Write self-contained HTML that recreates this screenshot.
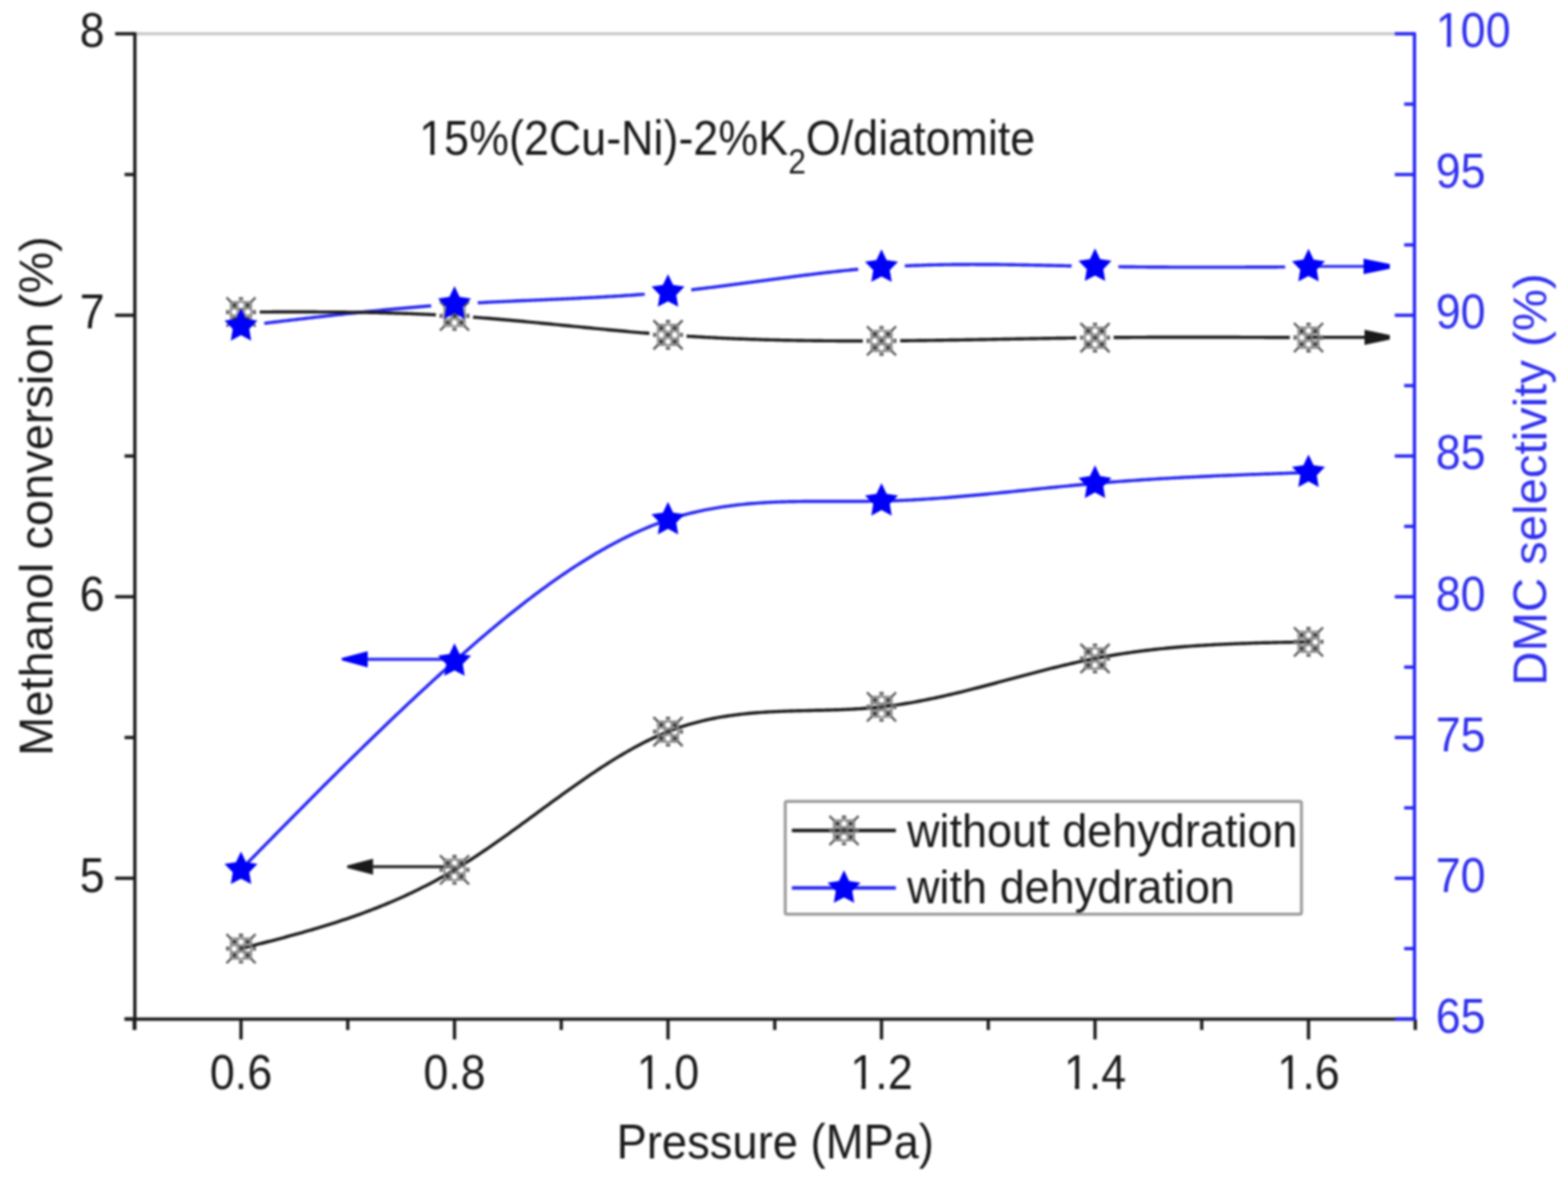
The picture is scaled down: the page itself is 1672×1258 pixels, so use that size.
<!DOCTYPE html><html><head><meta charset="utf-8"><style>html,body{margin:0;padding:0;background:#fff;overflow:hidden;}svg{display:block;filter:blur(0.8px)}</style></head><body>
<svg width="1672" height="1258" viewBox="0 0 1672 1258">
<rect width="1672" height="1258" fill="#fff"/>
<defs>
<mask id="mub" maskUnits="userSpaceOnUse" x="0" y="0" width="1672" height="1258"><rect width="1672" height="1258" fill="#fff"/>
<circle cx="257.00" cy="332.70" r="20" fill="#000"/>
<circle cx="484.66" cy="336.80" r="20" fill="#000"/>
<circle cx="712.32" cy="357.00" r="20" fill="#000"/>
<circle cx="939.98" cy="363.40" r="20" fill="#000"/>
<circle cx="1167.64" cy="360.00" r="20" fill="#000"/>
<circle cx="1395.30" cy="359.90" r="20" fill="#000"/>
</mask>
<mask id="muB" maskUnits="userSpaceOnUse" x="0" y="0" width="1672" height="1258"><rect width="1672" height="1258" fill="#fff"/>
<circle cx="257.00" cy="347.70" r="25" fill="#000"/>
<circle cx="484.66" cy="324.30" r="25" fill="#000"/>
<circle cx="712.32" cy="311.50" r="25" fill="#000"/>
<circle cx="939.98" cy="285.00" r="25" fill="#000"/>
<circle cx="1167.64" cy="284.00" r="25" fill="#000"/>
<circle cx="1395.30" cy="284.50" r="25" fill="#000"/>
</mask>
</defs>
<line x1="143.8" y1="36.0" x2="1508.3" y2="36.0" stroke="#c4c4c4" stroke-width="3"/>
<g fill="none" stroke-width="3.4" stroke-linejoin="round">
<path d="M257.00 347.70 L259.85 347.35 L262.71 347.01 L265.56 346.66 L268.41 346.31 L271.26 345.97 L274.12 345.62 L276.97 345.27 L279.82 344.93 L282.68 344.58 L285.53 344.24 L288.38 343.89 L291.23 343.55 L294.09 343.21 L296.94 342.86 L299.79 342.52 L302.65 342.18 L305.50 341.84 L308.35 341.50 L311.20 341.16 L314.06 340.82 L316.91 340.49 L319.76 340.15 L322.62 339.82 L325.47 339.48 L328.32 339.15 L331.17 338.82 L334.03 338.49 L336.88 338.17 L339.73 337.84 L342.59 337.51 L345.44 337.19 L348.29 336.87 L351.15 336.55 L354.00 336.23 L356.85 335.91 L359.70 335.60 L362.56 335.28 L365.41 334.97 L368.26 334.66 L371.12 334.36 L373.97 334.05 L376.82 333.75 L379.67 333.45 L382.53 333.15 L385.38 332.85 L388.23 332.55 L391.09 332.26 L393.94 331.97 L396.79 331.69 L399.64 331.40 L402.50 331.12 L405.35 330.84 L408.20 330.56 L411.06 330.29 L413.91 330.01 L416.76 329.75 L419.61 329.48 L422.47 329.22 L425.32 328.96 L428.17 328.70 L431.03 328.45 L433.88 328.19 L436.73 327.95 L439.58 327.70 L442.44 327.46 L445.29 327.22 L448.14 326.99 L451.00 326.76 L453.85 326.53 L456.70 326.30 L459.55 326.08 L462.41 325.87 L465.26 325.65 L468.11 325.44 L470.97 325.24 L473.82 325.03 L476.67 324.83 L479.52 324.64 L482.38 324.45 L485.23 324.26 L488.08 324.08 L490.94 323.90 L493.79 323.73 L496.64 323.56 L499.49 323.39 L502.35 323.22 L505.20 323.06 L508.05 322.90 L510.91 322.75 L513.76 322.60 L516.61 322.45 L519.47 322.30 L522.32 322.16 L525.17 322.02 L528.02 321.88 L530.88 321.74 L533.73 321.60 L536.58 321.47 L539.44 321.34 L542.29 321.21 L545.14 321.08 L547.99 320.95 L550.85 320.82 L553.70 320.70 L556.55 320.57 L559.41 320.45 L562.26 320.33 L565.11 320.20 L567.96 320.08 L570.82 319.96 L573.67 319.84 L576.52 319.72 L579.38 319.59 L582.23 319.47 L585.08 319.35 L587.93 319.23 L590.79 319.10 L593.64 318.98 L596.49 318.86 L599.35 318.73 L602.20 318.60 L605.05 318.47 L607.90 318.34 L610.76 318.21 L613.61 318.08 L616.46 317.95 L619.32 317.81 L622.17 317.67 L625.02 317.53 L627.87 317.39 L630.73 317.24 L633.58 317.09 L636.43 316.94 L639.29 316.79 L642.14 316.63 L644.99 316.47 L647.84 316.31 L650.70 316.14 L653.55 315.97 L656.40 315.80 L659.26 315.62 L662.11 315.44 L664.96 315.26 L667.82 315.07 L670.67 314.88 L673.52 314.68 L676.37 314.48 L679.23 314.27 L682.08 314.06 L684.93 313.85 L687.79 313.62 L690.64 313.40 L693.49 313.17 L696.34 312.93 L699.20 312.69 L702.05 312.44 L704.90 312.19 L707.76 311.93 L710.61 311.66 L713.46 311.39 L716.31 311.11 L719.17 310.83 L722.02 310.54 L724.87 310.24 L727.73 309.94 L730.58 309.64 L733.43 309.33 L736.28 309.01 L739.14 308.69 L741.99 308.36 L744.84 308.03 L747.70 307.70 L750.55 307.36 L753.40 307.02 L756.25 306.68 L759.11 306.33 L761.96 305.97 L764.81 305.62 L767.67 305.26 L770.52 304.90 L773.37 304.54 L776.22 304.17 L779.08 303.80 L781.93 303.43 L784.78 303.06 L787.64 302.68 L790.49 302.31 L793.34 301.93 L796.19 301.55 L799.05 301.17 L801.90 300.79 L804.75 300.41 L807.61 300.03 L810.46 299.65 L813.31 299.27 L816.16 298.89 L819.02 298.51 L821.87 298.13 L824.72 297.75 L827.58 297.37 L830.43 296.99 L833.28 296.61 L836.14 296.24 L838.99 295.86 L841.84 295.49 L844.69 295.12 L847.55 294.75 L850.40 294.38 L853.25 294.02 L856.11 293.66 L858.96 293.30 L861.81 292.94 L864.66 292.59 L867.52 292.24 L870.37 291.89 L873.22 291.55 L876.08 291.21 L878.93 290.88 L881.78 290.55 L884.63 290.22 L887.49 289.90 L890.34 289.58 L893.19 289.27 L896.05 288.96 L898.90 288.66 L901.75 288.36 L904.60 288.07 L907.46 287.79 L910.31 287.51 L913.16 287.23 L916.02 286.97 L918.87 286.71 L921.72 286.45 L924.57 286.21 L927.43 285.97 L930.28 285.73 L933.13 285.51 L935.99 285.29 L938.84 285.08 L941.69 284.88 L944.54 284.69 L947.40 284.50 L950.25 284.32 L953.10 284.15 L955.96 283.99 L958.81 283.83 L961.66 283.68 L964.51 283.54 L967.37 283.40 L970.22 283.27 L973.07 283.15 L975.93 283.04 L978.78 282.93 L981.63 282.83 L984.48 282.73 L987.34 282.64 L990.19 282.56 L993.04 282.48 L995.90 282.40 L998.75 282.34 L1001.60 282.28 L1004.46 282.22 L1007.31 282.17 L1010.16 282.12 L1013.01 282.08 L1015.87 282.05 L1018.72 282.02 L1021.57 281.99 L1024.43 281.97 L1027.28 281.95 L1030.13 281.94 L1032.98 281.93 L1035.84 281.92 L1038.69 281.92 L1041.54 281.93 L1044.40 281.93 L1047.25 281.94 L1050.10 281.96 L1052.95 281.97 L1055.81 281.99 L1058.66 282.02 L1061.51 282.04 L1064.37 282.07 L1067.22 282.10 L1070.07 282.14 L1072.92 282.17 L1075.78 282.21 L1078.63 282.25 L1081.48 282.30 L1084.34 282.34 L1087.19 282.39 L1090.04 282.44 L1092.89 282.49 L1095.75 282.54 L1098.60 282.60 L1101.45 282.65 L1104.31 282.71 L1107.16 282.76 L1110.01 282.82 L1112.86 282.88 L1115.72 282.94 L1118.57 283.00 L1121.42 283.06 L1124.28 283.12 L1127.13 283.18 L1129.98 283.24 L1132.83 283.31 L1135.69 283.37 L1138.54 283.43 L1141.39 283.49 L1144.25 283.55 L1147.10 283.61 L1149.95 283.66 L1152.81 283.72 L1155.66 283.78 L1158.51 283.83 L1161.36 283.89 L1164.22 283.94 L1167.07 283.99 L1169.92 284.04 L1172.78 284.09 L1175.63 284.13 L1178.48 284.18 L1181.33 284.22 L1184.19 284.26 L1187.04 284.30 L1189.89 284.34 L1192.75 284.38 L1195.60 284.41 L1198.45 284.45 L1201.30 284.48 L1204.16 284.51 L1207.01 284.54 L1209.86 284.57 L1212.72 284.60 L1215.57 284.62 L1218.42 284.65 L1221.27 284.67 L1224.13 284.69 L1226.98 284.71 L1229.83 284.73 L1232.69 284.75 L1235.54 284.77 L1238.39 284.79 L1241.24 284.80 L1244.10 284.81 L1246.95 284.83 L1249.80 284.84 L1252.66 284.85 L1255.51 284.86 L1258.36 284.87 L1261.21 284.88 L1264.07 284.88 L1266.92 284.89 L1269.77 284.89 L1272.63 284.90 L1275.48 284.90 L1278.33 284.90 L1281.18 284.90 L1284.04 284.90 L1286.89 284.90 L1289.74 284.90 L1292.60 284.90 L1295.45 284.90 L1298.30 284.89 L1301.15 284.89 L1304.01 284.89 L1306.86 284.88 L1309.71 284.87 L1312.57 284.87 L1315.42 284.86 L1318.27 284.85 L1321.13 284.84 L1323.98 284.84 L1326.83 284.83 L1329.68 284.82 L1332.54 284.81 L1335.39 284.79 L1338.24 284.78 L1341.10 284.77 L1343.95 284.76 L1346.80 284.75 L1349.65 284.73 L1352.51 284.72 L1355.36 284.71 L1358.21 284.69 L1361.07 284.68 L1363.92 284.67 L1366.77 284.65 L1369.62 284.64 L1372.48 284.62 L1375.33 284.61 L1378.18 284.59 L1381.04 284.58 L1383.89 284.56 L1386.74 284.55 L1389.59 284.53 L1392.45 284.52 L1395.30 284.50" stroke="#2626f2" mask="url(#muB)"/>
<path d="M257.00 332.70 L259.85 332.69 L262.71 332.67 L265.56 332.66 L268.41 332.65 L271.26 332.64 L274.12 332.63 L276.97 332.62 L279.82 332.60 L282.68 332.59 L285.53 332.58 L288.38 332.58 L291.23 332.57 L294.09 332.56 L296.94 332.55 L299.79 332.55 L302.65 332.54 L305.50 332.54 L308.35 332.53 L311.20 332.53 L314.06 332.53 L316.91 332.53 L319.76 332.53 L322.62 332.53 L325.47 332.54 L328.32 332.54 L331.17 332.55 L334.03 332.56 L336.88 332.57 L339.73 332.58 L342.59 332.59 L345.44 332.61 L348.29 332.63 L351.15 332.65 L354.00 332.67 L356.85 332.69 L359.70 332.72 L362.56 332.74 L365.41 332.77 L368.26 332.81 L371.12 332.84 L373.97 332.88 L376.82 332.92 L379.67 332.96 L382.53 333.00 L385.38 333.05 L388.23 333.10 L391.09 333.15 L393.94 333.21 L396.79 333.27 L399.64 333.33 L402.50 333.39 L405.35 333.46 L408.20 333.53 L411.06 333.60 L413.91 333.68 L416.76 333.76 L419.61 333.84 L422.47 333.93 L425.32 334.02 L428.17 334.12 L431.03 334.21 L433.88 334.31 L436.73 334.42 L439.58 334.53 L442.44 334.64 L445.29 334.76 L448.14 334.88 L451.00 335.00 L453.85 335.13 L456.70 335.26 L459.55 335.40 L462.41 335.54 L465.26 335.69 L468.11 335.84 L470.97 335.99 L473.82 336.15 L476.67 336.32 L479.52 336.49 L482.38 336.66 L485.23 336.84 L488.08 337.02 L490.94 337.21 L493.79 337.40 L496.64 337.59 L499.49 337.79 L502.35 338.00 L505.20 338.21 L508.05 338.42 L510.91 338.64 L513.76 338.86 L516.61 339.08 L519.47 339.31 L522.32 339.54 L525.17 339.78 L528.02 340.01 L530.88 340.26 L533.73 340.50 L536.58 340.75 L539.44 341.00 L542.29 341.25 L545.14 341.50 L547.99 341.76 L550.85 342.02 L553.70 342.28 L556.55 342.55 L559.41 342.81 L562.26 343.08 L565.11 343.35 L567.96 343.62 L570.82 343.89 L573.67 344.17 L576.52 344.44 L579.38 344.72 L582.23 345.00 L585.08 345.28 L587.93 345.56 L590.79 345.84 L593.64 346.12 L596.49 346.40 L599.35 346.69 L602.20 346.97 L605.05 347.25 L607.90 347.54 L610.76 347.82 L613.61 348.10 L616.46 348.38 L619.32 348.67 L622.17 348.95 L625.02 349.23 L627.87 349.51 L630.73 349.79 L633.58 350.07 L636.43 350.35 L639.29 350.63 L642.14 350.90 L644.99 351.18 L647.84 351.45 L650.70 351.72 L653.55 351.99 L656.40 352.26 L659.26 352.53 L662.11 352.79 L664.96 353.05 L667.82 353.31 L670.67 353.57 L673.52 353.83 L676.37 354.08 L679.23 354.33 L682.08 354.58 L684.93 354.82 L687.79 355.06 L690.64 355.30 L693.49 355.54 L696.34 355.77 L699.20 356.00 L702.05 356.22 L704.90 356.44 L707.76 356.66 L710.61 356.87 L713.46 357.08 L716.31 357.29 L719.17 357.49 L722.02 357.69 L724.87 357.88 L727.73 358.07 L730.58 358.26 L733.43 358.44 L736.28 358.62 L739.14 358.79 L741.99 358.96 L744.84 359.13 L747.70 359.29 L750.55 359.45 L753.40 359.61 L756.25 359.76 L759.11 359.91 L761.96 360.05 L764.81 360.19 L767.67 360.33 L770.52 360.47 L773.37 360.60 L776.22 360.73 L779.08 360.85 L781.93 360.97 L784.78 361.09 L787.64 361.20 L790.49 361.32 L793.34 361.42 L796.19 361.53 L799.05 361.63 L801.90 361.73 L804.75 361.82 L807.61 361.92 L810.46 362.01 L813.31 362.09 L816.16 362.18 L819.02 362.26 L821.87 362.33 L824.72 362.41 L827.58 362.48 L830.43 362.55 L833.28 362.62 L836.14 362.68 L838.99 362.74 L841.84 362.80 L844.69 362.86 L847.55 362.91 L850.40 362.96 L853.25 363.01 L856.11 363.05 L858.96 363.10 L861.81 363.14 L864.66 363.17 L867.52 363.21 L870.37 363.24 L873.22 363.27 L876.08 363.30 L878.93 363.33 L881.78 363.35 L884.63 363.37 L887.49 363.39 L890.34 363.41 L893.19 363.43 L896.05 363.44 L898.90 363.45 L901.75 363.46 L904.60 363.47 L907.46 363.47 L910.31 363.47 L913.16 363.48 L916.02 363.48 L918.87 363.47 L921.72 363.47 L924.57 363.46 L927.43 363.45 L930.28 363.44 L933.13 363.43 L935.99 363.42 L938.84 363.41 L941.69 363.39 L944.54 363.37 L947.40 363.35 L950.25 363.33 L953.10 363.31 L955.96 363.29 L958.81 363.26 L961.66 363.24 L964.51 363.21 L967.37 363.18 L970.22 363.15 L973.07 363.12 L975.93 363.08 L978.78 363.05 L981.63 363.02 L984.48 362.98 L987.34 362.94 L990.19 362.90 L993.04 362.87 L995.90 362.83 L998.75 362.78 L1001.60 362.74 L1004.46 362.70 L1007.31 362.66 L1010.16 362.61 L1013.01 362.57 L1015.87 362.52 L1018.72 362.48 L1021.57 362.43 L1024.43 362.38 L1027.28 362.33 L1030.13 362.28 L1032.98 362.24 L1035.84 362.19 L1038.69 362.14 L1041.54 362.09 L1044.40 362.03 L1047.25 361.98 L1050.10 361.93 L1052.95 361.88 L1055.81 361.83 L1058.66 361.78 L1061.51 361.72 L1064.37 361.67 L1067.22 361.62 L1070.07 361.57 L1072.92 361.51 L1075.78 361.46 L1078.63 361.41 L1081.48 361.36 L1084.34 361.31 L1087.19 361.25 L1090.04 361.20 L1092.89 361.15 L1095.75 361.10 L1098.60 361.05 L1101.45 361.00 L1104.31 360.95 L1107.16 360.90 L1110.01 360.85 L1112.86 360.80 L1115.72 360.75 L1118.57 360.70 L1121.42 360.66 L1124.28 360.61 L1127.13 360.56 L1129.98 360.52 L1132.83 360.47 L1135.69 360.43 L1138.54 360.39 L1141.39 360.34 L1144.25 360.30 L1147.10 360.26 L1149.95 360.22 L1152.81 360.18 L1155.66 360.15 L1158.51 360.11 L1161.36 360.07 L1164.22 360.04 L1167.07 360.01 L1169.92 359.97 L1172.78 359.94 L1175.63 359.91 L1178.48 359.88 L1181.33 359.86 L1184.19 359.83 L1187.04 359.81 L1189.89 359.78 L1192.75 359.76 L1195.60 359.74 L1198.45 359.71 L1201.30 359.69 L1204.16 359.68 L1207.01 359.66 L1209.86 359.64 L1212.72 359.62 L1215.57 359.61 L1218.42 359.59 L1221.27 359.58 L1224.13 359.57 L1226.98 359.56 L1229.83 359.55 L1232.69 359.54 L1235.54 359.53 L1238.39 359.52 L1241.24 359.51 L1244.10 359.50 L1246.95 359.50 L1249.80 359.49 L1252.66 359.49 L1255.51 359.48 L1258.36 359.48 L1261.21 359.48 L1264.07 359.48 L1266.92 359.48 L1269.77 359.48 L1272.63 359.48 L1275.48 359.48 L1278.33 359.48 L1281.18 359.48 L1284.04 359.49 L1286.89 359.49 L1289.74 359.49 L1292.60 359.50 L1295.45 359.50 L1298.30 359.51 L1301.15 359.51 L1304.01 359.52 L1306.86 359.53 L1309.71 359.54 L1312.57 359.54 L1315.42 359.55 L1318.27 359.56 L1321.13 359.57 L1323.98 359.58 L1326.83 359.59 L1329.68 359.60 L1332.54 359.61 L1335.39 359.62 L1338.24 359.63 L1341.10 359.64 L1343.95 359.66 L1346.80 359.67 L1349.65 359.68 L1352.51 359.69 L1355.36 359.71 L1358.21 359.72 L1361.07 359.73 L1363.92 359.75 L1366.77 359.76 L1369.62 359.77 L1372.48 359.79 L1375.33 359.80 L1378.18 359.81 L1381.04 359.83 L1383.89 359.84 L1386.74 359.86 L1389.59 359.87 L1392.45 359.89 L1395.30 359.90" stroke="#1a1a1a" mask="url(#mub)"/>
<path d="M257.00 1011.30 L259.85 1010.58 L262.71 1009.85 L265.56 1009.13 L268.41 1008.40 L271.26 1007.68 L274.12 1006.95 L276.97 1006.22 L279.82 1005.49 L282.68 1004.75 L285.53 1004.02 L288.38 1003.28 L291.23 1002.53 L294.09 1001.78 L296.94 1001.03 L299.79 1000.28 L302.65 999.52 L305.50 998.75 L308.35 997.98 L311.20 997.20 L314.06 996.42 L316.91 995.63 L319.76 994.84 L322.62 994.04 L325.47 993.23 L328.32 992.41 L331.17 991.59 L334.03 990.75 L336.88 989.91 L339.73 989.06 L342.59 988.21 L345.44 987.34 L348.29 986.46 L351.15 985.57 L354.00 984.68 L356.85 983.77 L359.70 982.85 L362.56 981.92 L365.41 980.98 L368.26 980.02 L371.12 979.06 L373.97 978.08 L376.82 977.09 L379.67 976.09 L382.53 975.07 L385.38 974.04 L388.23 972.99 L391.09 971.94 L393.94 970.86 L396.79 969.77 L399.64 968.67 L402.50 967.55 L405.35 966.42 L408.20 965.27 L411.06 964.10 L413.91 962.91 L416.76 961.71 L419.61 960.49 L422.47 959.26 L425.32 958.00 L428.17 956.73 L431.03 955.44 L433.88 954.13 L436.73 952.80 L439.58 951.45 L442.44 950.08 L445.29 948.69 L448.14 947.28 L451.00 945.85 L453.85 944.40 L456.70 942.93 L459.55 941.44 L462.41 939.92 L465.26 938.38 L468.11 936.82 L470.97 935.23 L473.82 933.63 L476.67 932.00 L479.52 930.34 L482.38 928.66 L485.23 926.96 L488.08 925.23 L490.94 923.48 L493.79 921.70 L496.64 919.90 L499.49 918.09 L502.35 916.25 L505.20 914.39 L508.05 912.51 L510.91 910.61 L513.76 908.70 L516.61 906.77 L519.47 904.82 L522.32 902.86 L525.17 900.89 L528.02 898.90 L530.88 896.90 L533.73 894.88 L536.58 892.86 L539.44 890.83 L542.29 888.78 L545.14 886.73 L547.99 884.67 L550.85 882.61 L553.70 880.53 L556.55 878.46 L559.41 876.37 L562.26 874.29 L565.11 872.20 L567.96 870.11 L570.82 868.02 L573.67 865.92 L576.52 863.83 L579.38 861.74 L582.23 859.65 L585.08 857.57 L587.93 855.48 L590.79 853.40 L593.64 851.33 L596.49 849.26 L599.35 847.20 L602.20 845.15 L605.05 843.10 L607.90 841.07 L610.76 839.04 L613.61 837.03 L616.46 835.03 L619.32 833.03 L622.17 831.06 L625.02 829.09 L627.87 827.14 L630.73 825.21 L633.58 823.29 L636.43 821.40 L639.29 819.51 L642.14 817.65 L644.99 815.81 L647.84 813.98 L650.70 812.18 L653.55 810.40 L656.40 808.65 L659.26 806.91 L662.11 805.21 L664.96 803.52 L667.82 801.87 L670.67 800.24 L673.52 798.63 L676.37 797.06 L679.23 795.51 L682.08 794.00 L684.93 792.52 L687.79 791.06 L690.64 789.64 L693.49 788.26 L696.34 786.90 L699.20 785.59 L702.05 784.31 L704.90 783.06 L707.76 781.85 L710.61 780.68 L713.46 779.55 L716.31 778.46 L719.17 777.41 L722.02 776.39 L724.87 775.41 L727.73 774.47 L730.58 773.56 L733.43 772.69 L736.28 771.85 L739.14 771.05 L741.99 770.27 L744.84 769.53 L747.70 768.82 L750.55 768.14 L753.40 767.50 L756.25 766.87 L759.11 766.28 L761.96 765.72 L764.81 765.18 L767.67 764.66 L770.52 764.18 L773.37 763.71 L776.22 763.28 L779.08 762.86 L781.93 762.47 L784.78 762.09 L787.64 761.74 L790.49 761.41 L793.34 761.10 L796.19 760.80 L799.05 760.53 L801.90 760.27 L804.75 760.03 L807.61 759.80 L810.46 759.59 L813.31 759.39 L816.16 759.21 L819.02 759.04 L821.87 758.88 L824.72 758.73 L827.58 758.60 L830.43 758.47 L833.28 758.35 L836.14 758.24 L838.99 758.14 L841.84 758.05 L844.69 757.96 L847.55 757.88 L850.40 757.80 L853.25 757.72 L856.11 757.65 L858.96 757.58 L861.81 757.52 L864.66 757.45 L867.52 757.38 L870.37 757.32 L873.22 757.25 L876.08 757.18 L878.93 757.11 L881.78 757.04 L884.63 756.96 L887.49 756.88 L890.34 756.79 L893.19 756.69 L896.05 756.59 L898.90 756.48 L901.75 756.36 L904.60 756.23 L907.46 756.10 L910.31 755.95 L913.16 755.79 L916.02 755.62 L918.87 755.43 L921.72 755.24 L924.57 755.02 L927.43 754.80 L930.28 754.55 L933.13 754.29 L935.99 754.02 L938.84 753.72 L941.69 753.41 L944.54 753.08 L947.40 752.73 L950.25 752.36 L953.10 751.97 L955.96 751.57 L958.81 751.15 L961.66 750.72 L964.51 750.26 L967.37 749.80 L970.22 749.31 L973.07 748.82 L975.93 748.30 L978.78 747.78 L981.63 747.24 L984.48 746.69 L987.34 746.12 L990.19 745.54 L993.04 744.95 L995.90 744.35 L998.75 743.74 L1001.60 743.12 L1004.46 742.48 L1007.31 741.84 L1010.16 741.19 L1013.01 740.53 L1015.87 739.85 L1018.72 739.18 L1021.57 738.49 L1024.43 737.79 L1027.28 737.09 L1030.13 736.38 L1032.98 735.67 L1035.84 734.94 L1038.69 734.22 L1041.54 733.48 L1044.40 732.75 L1047.25 732.01 L1050.10 731.26 L1052.95 730.51 L1055.81 729.76 L1058.66 729.00 L1061.51 728.24 L1064.37 727.48 L1067.22 726.72 L1070.07 725.96 L1072.92 725.20 L1075.78 724.43 L1078.63 723.67 L1081.48 722.90 L1084.34 722.14 L1087.19 721.38 L1090.04 720.62 L1092.89 719.86 L1095.75 719.10 L1098.60 718.35 L1101.45 717.60 L1104.31 716.85 L1107.16 716.11 L1110.01 715.37 L1112.86 714.64 L1115.72 713.91 L1118.57 713.18 L1121.42 712.47 L1124.28 711.76 L1127.13 711.05 L1129.98 710.35 L1132.83 709.66 L1135.69 708.98 L1138.54 708.31 L1141.39 707.64 L1144.25 706.99 L1147.10 706.34 L1149.95 705.70 L1152.81 705.08 L1155.66 704.46 L1158.51 703.86 L1161.36 703.26 L1164.22 702.68 L1167.07 702.11 L1169.92 701.56 L1172.78 701.01 L1175.63 700.48 L1178.48 699.96 L1181.33 699.45 L1184.19 698.96 L1187.04 698.48 L1189.89 698.00 L1192.75 697.54 L1195.60 697.09 L1198.45 696.66 L1201.30 696.23 L1204.16 695.81 L1207.01 695.41 L1209.86 695.01 L1212.72 694.63 L1215.57 694.26 L1218.42 693.89 L1221.27 693.54 L1224.13 693.19 L1226.98 692.86 L1229.83 692.53 L1232.69 692.22 L1235.54 691.91 L1238.39 691.61 L1241.24 691.32 L1244.10 691.04 L1246.95 690.77 L1249.80 690.50 L1252.66 690.25 L1255.51 690.00 L1258.36 689.76 L1261.21 689.53 L1264.07 689.30 L1266.92 689.09 L1269.77 688.88 L1272.63 688.67 L1275.48 688.48 L1278.33 688.29 L1281.18 688.10 L1284.04 687.93 L1286.89 687.75 L1289.74 687.59 L1292.60 687.43 L1295.45 687.28 L1298.30 687.13 L1301.15 686.99 L1304.01 686.85 L1306.86 686.72 L1309.71 686.59 L1312.57 686.47 L1315.42 686.35 L1318.27 686.24 L1321.13 686.13 L1323.98 686.03 L1326.83 685.93 L1329.68 685.83 L1332.54 685.74 L1335.39 685.65 L1338.24 685.56 L1341.10 685.48 L1343.95 685.40 L1346.80 685.32 L1349.65 685.25 L1352.51 685.18 L1355.36 685.11 L1358.21 685.04 L1361.07 684.98 L1363.92 684.91 L1366.77 684.85 L1369.62 684.79 L1372.48 684.73 L1375.33 684.68 L1378.18 684.62 L1381.04 684.57 L1383.89 684.51 L1386.74 684.46 L1389.59 684.41 L1392.45 684.35 L1395.30 684.30" stroke="#1a1a1a"/>
<path d="M257.00 927.00 L259.85 924.10 L262.71 921.19 L265.56 918.29 L268.41 915.39 L271.26 912.49 L274.12 909.58 L276.97 906.68 L279.82 903.78 L282.68 900.88 L285.53 897.99 L288.38 895.09 L291.23 892.19 L294.09 889.30 L296.94 886.41 L299.79 883.52 L302.65 880.63 L305.50 877.74 L308.35 874.85 L311.20 871.97 L314.06 869.09 L316.91 866.21 L319.76 863.33 L322.62 860.46 L325.47 857.59 L328.32 854.72 L331.17 851.85 L334.03 848.99 L336.88 846.13 L339.73 843.27 L342.59 840.42 L345.44 837.57 L348.29 834.72 L351.15 831.88 L354.00 829.04 L356.85 826.20 L359.70 823.37 L362.56 820.54 L365.41 817.72 L368.26 814.90 L371.12 812.09 L373.97 809.28 L376.82 806.47 L379.67 803.67 L382.53 800.88 L385.38 798.09 L388.23 795.30 L391.09 792.52 L393.94 789.75 L396.79 786.98 L399.64 784.22 L402.50 781.46 L405.35 778.71 L408.20 775.96 L411.06 773.22 L413.91 770.49 L416.76 767.76 L419.61 765.04 L422.47 762.33 L425.32 759.62 L428.17 756.92 L431.03 754.23 L433.88 751.54 L436.73 748.86 L439.58 746.19 L442.44 743.52 L445.29 740.86 L448.14 738.21 L451.00 735.57 L453.85 732.93 L456.70 730.31 L459.55 727.69 L462.41 725.08 L465.26 722.47 L468.11 719.88 L470.97 717.29 L473.82 714.71 L476.67 712.15 L479.52 709.59 L482.38 707.03 L485.23 704.49 L488.08 701.96 L490.94 699.44 L493.79 696.92 L496.64 694.42 L499.49 691.92 L502.35 689.44 L505.20 686.97 L508.05 684.51 L510.91 682.06 L513.76 679.62 L516.61 677.19 L519.47 674.78 L522.32 672.38 L525.17 669.99 L528.02 667.61 L530.88 665.25 L533.73 662.90 L536.58 660.56 L539.44 658.24 L542.29 655.94 L545.14 653.64 L547.99 651.36 L550.85 649.10 L553.70 646.85 L556.55 644.62 L559.41 642.41 L562.26 640.21 L565.11 638.02 L567.96 635.86 L570.82 633.71 L573.67 631.57 L576.52 629.46 L579.38 627.36 L582.23 625.28 L585.08 623.22 L587.93 621.18 L590.79 619.16 L593.64 617.15 L596.49 615.17 L599.35 613.20 L602.20 611.26 L605.05 609.33 L607.90 607.43 L610.76 605.54 L613.61 603.68 L616.46 601.84 L619.32 600.02 L622.17 598.22 L625.02 596.45 L627.87 594.69 L630.73 592.96 L633.58 591.25 L636.43 589.57 L639.29 587.91 L642.14 586.27 L644.99 584.65 L647.84 583.07 L650.70 581.50 L653.55 579.96 L656.40 578.45 L659.26 576.96 L662.11 575.49 L664.96 574.05 L667.82 572.64 L670.67 571.26 L673.52 569.90 L676.37 568.56 L679.23 567.26 L682.08 565.98 L684.93 564.73 L687.79 563.51 L690.64 562.32 L693.49 561.15 L696.34 560.02 L699.20 558.91 L702.05 557.83 L704.90 556.78 L707.76 555.77 L710.61 554.78 L713.46 553.82 L716.31 552.89 L719.17 552.00 L722.02 551.13 L724.87 550.29 L727.73 549.48 L730.58 548.70 L733.43 547.94 L736.28 547.22 L739.14 546.51 L741.99 545.84 L744.84 545.19 L747.70 544.56 L750.55 543.96 L753.40 543.39 L756.25 542.84 L759.11 542.31 L761.96 541.80 L764.81 541.32 L767.67 540.85 L770.52 540.41 L773.37 539.99 L776.22 539.59 L779.08 539.21 L781.93 538.85 L784.78 538.50 L787.64 538.18 L790.49 537.87 L793.34 537.58 L796.19 537.31 L799.05 537.05 L801.90 536.81 L804.75 536.58 L807.61 536.37 L810.46 536.17 L813.31 535.99 L816.16 535.82 L819.02 535.66 L821.87 535.52 L824.72 535.39 L827.58 535.27 L830.43 535.15 L833.28 535.05 L836.14 534.96 L838.99 534.88 L841.84 534.81 L844.69 534.75 L847.55 534.69 L850.40 534.65 L853.25 534.61 L856.11 534.57 L858.96 534.54 L861.81 534.52 L864.66 534.50 L867.52 534.49 L870.37 534.48 L873.22 534.48 L876.08 534.47 L878.93 534.47 L881.78 534.48 L884.63 534.48 L887.49 534.49 L890.34 534.49 L893.19 534.50 L896.05 534.51 L898.90 534.51 L901.75 534.51 L904.60 534.52 L907.46 534.52 L910.31 534.51 L913.16 534.51 L916.02 534.50 L918.87 534.48 L921.72 534.46 L924.57 534.44 L927.43 534.41 L930.28 534.37 L933.13 534.33 L935.99 534.28 L938.84 534.23 L941.69 534.16 L944.54 534.09 L947.40 534.00 L950.25 533.92 L953.10 533.82 L955.96 533.71 L958.81 533.60 L961.66 533.48 L964.51 533.35 L967.37 533.22 L970.22 533.08 L973.07 532.93 L975.93 532.78 L978.78 532.62 L981.63 532.45 L984.48 532.28 L987.34 532.10 L990.19 531.92 L993.04 531.73 L995.90 531.53 L998.75 531.33 L1001.60 531.12 L1004.46 530.91 L1007.31 530.70 L1010.16 530.47 L1013.01 530.25 L1015.87 530.02 L1018.72 529.79 L1021.57 529.55 L1024.43 529.30 L1027.28 529.06 L1030.13 528.81 L1032.98 528.56 L1035.84 528.30 L1038.69 528.04 L1041.54 527.78 L1044.40 527.51 L1047.25 527.24 L1050.10 526.97 L1052.95 526.70 L1055.81 526.42 L1058.66 526.14 L1061.51 525.86 L1064.37 525.58 L1067.22 525.30 L1070.07 525.01 L1072.92 524.72 L1075.78 524.44 L1078.63 524.15 L1081.48 523.86 L1084.34 523.56 L1087.19 523.27 L1090.04 522.98 L1092.89 522.69 L1095.75 522.40 L1098.60 522.10 L1101.45 521.81 L1104.31 521.52 L1107.16 521.22 L1110.01 520.93 L1112.86 520.64 L1115.72 520.35 L1118.57 520.06 L1121.42 519.78 L1124.28 519.49 L1127.13 519.20 L1129.98 518.92 L1132.83 518.64 L1135.69 518.36 L1138.54 518.08 L1141.39 517.81 L1144.25 517.53 L1147.10 517.26 L1149.95 516.99 L1152.81 516.73 L1155.66 516.47 L1158.51 516.21 L1161.36 515.95 L1164.22 515.70 L1167.07 515.45 L1169.92 515.20 L1172.78 514.96 L1175.63 514.72 L1178.48 514.49 L1181.33 514.26 L1184.19 514.03 L1187.04 513.81 L1189.89 513.59 L1192.75 513.37 L1195.60 513.16 L1198.45 512.95 L1201.30 512.74 L1204.16 512.54 L1207.01 512.34 L1209.86 512.14 L1212.72 511.94 L1215.57 511.75 L1218.42 511.56 L1221.27 511.38 L1224.13 511.20 L1226.98 511.02 L1229.83 510.84 L1232.69 510.67 L1235.54 510.49 L1238.39 510.32 L1241.24 510.16 L1244.10 509.99 L1246.95 509.83 L1249.80 509.67 L1252.66 509.52 L1255.51 509.36 L1258.36 509.21 L1261.21 509.06 L1264.07 508.91 L1266.92 508.77 L1269.77 508.62 L1272.63 508.48 L1275.48 508.34 L1278.33 508.21 L1281.18 508.07 L1284.04 507.94 L1286.89 507.81 L1289.74 507.68 L1292.60 507.55 L1295.45 507.42 L1298.30 507.30 L1301.15 507.17 L1304.01 507.05 L1306.86 506.93 L1309.71 506.81 L1312.57 506.70 L1315.42 506.58 L1318.27 506.47 L1321.13 506.35 L1323.98 506.24 L1326.83 506.13 L1329.68 506.02 L1332.54 505.91 L1335.39 505.80 L1338.24 505.70 L1341.10 505.59 L1343.95 505.49 L1346.80 505.38 L1349.65 505.28 L1352.51 505.18 L1355.36 505.08 L1358.21 504.98 L1361.07 504.87 L1363.92 504.77 L1366.77 504.68 L1369.62 504.58 L1372.48 504.48 L1375.33 504.38 L1378.18 504.28 L1381.04 504.18 L1383.89 504.09 L1386.74 503.99 L1389.59 503.89 L1392.45 503.80 L1395.30 503.70" stroke="#2626f2"/>
</g>
<line x1="1395.30" y1="284.00" x2="1454.00" y2="284.00" stroke="#2626f2" stroke-width="3.2"/><polygon points="1482.00,281.60 1454.00,275.80 1454.00,292.20 1482.00,286.40" fill="#0000f8"/>
<line x1="1395.30" y1="359.60" x2="1455.00" y2="359.60" stroke="#1a1a1a" stroke-width="3.2"/><polygon points="1482.00,357.20 1455.00,351.40 1455.00,367.80 1482.00,362.00" fill="#1a1a1a"/>
<line x1="484.66" y1="702.80" x2="392.10" y2="702.80" stroke="#2626f2" stroke-width="3.2"/><polygon points="364.40,701.50 392.10,694.20 392.10,711.40 364.40,704.10" fill="#0000f8"/>
<line x1="484.66" y1="924.00" x2="397.80" y2="924.00" stroke="#1a1a1a" stroke-width="3.2"/><polygon points="370.10,922.70 397.80,915.40 397.80,932.60 370.10,925.30" fill="#1a1a1a"/>
<g transform="translate(257.00 332.70)"><path fill="none" d="M-3.6 -10.8V10.8M3.6 -10.8V10.8M-10.8 -3.6H10.8M-10.8 3.6H10.8M-10.8 -10.8H10.8V10.8H-10.8Z" stroke="#828282" stroke-width="1.9"/><path fill="none" d="M-15.5 -15.5L-10.5 -10.5M15.5 15.5L10.5 10.5M-15.5 15.5L-10.5 10.5M15.5 -15.5L10.5 -10.5" stroke="#606060" stroke-width="2.6"/><path fill="#3c3c3c" d="M-9.4 -9.4h4.4v4.4h-4.4zM5 -9.4h4.4v4.4h-4.4zM-9.4 5h4.4v4.4h-4.4zM5 5h4.4v4.4h-4.4zM-2.2 -2.2h4.4v4.4h-4.4z"/><path fill="#6a6a6a" d="M-2.3 -16h4.6v3.6h-4.6zM-2.3 12.4h4.6v3.6h-4.6zM-16 -2.3h3.6v4.6h-3.6zM12.4 -2.3h3.6v4.6h-3.6z"/></g>
<g transform="translate(484.66 336.80)"><path fill="none" d="M-3.6 -10.8V10.8M3.6 -10.8V10.8M-10.8 -3.6H10.8M-10.8 3.6H10.8M-10.8 -10.8H10.8V10.8H-10.8Z" stroke="#828282" stroke-width="1.9"/><path fill="none" d="M-15.5 -15.5L-10.5 -10.5M15.5 15.5L10.5 10.5M-15.5 15.5L-10.5 10.5M15.5 -15.5L10.5 -10.5" stroke="#606060" stroke-width="2.6"/><path fill="#3c3c3c" d="M-9.4 -9.4h4.4v4.4h-4.4zM5 -9.4h4.4v4.4h-4.4zM-9.4 5h4.4v4.4h-4.4zM5 5h4.4v4.4h-4.4zM-2.2 -2.2h4.4v4.4h-4.4z"/><path fill="#6a6a6a" d="M-2.3 -16h4.6v3.6h-4.6zM-2.3 12.4h4.6v3.6h-4.6zM-16 -2.3h3.6v4.6h-3.6zM12.4 -2.3h3.6v4.6h-3.6z"/></g>
<g transform="translate(712.32 357.00)"><path fill="none" d="M-3.6 -10.8V10.8M3.6 -10.8V10.8M-10.8 -3.6H10.8M-10.8 3.6H10.8M-10.8 -10.8H10.8V10.8H-10.8Z" stroke="#828282" stroke-width="1.9"/><path fill="none" d="M-15.5 -15.5L-10.5 -10.5M15.5 15.5L10.5 10.5M-15.5 15.5L-10.5 10.5M15.5 -15.5L10.5 -10.5" stroke="#606060" stroke-width="2.6"/><path fill="#3c3c3c" d="M-9.4 -9.4h4.4v4.4h-4.4zM5 -9.4h4.4v4.4h-4.4zM-9.4 5h4.4v4.4h-4.4zM5 5h4.4v4.4h-4.4zM-2.2 -2.2h4.4v4.4h-4.4z"/><path fill="#6a6a6a" d="M-2.3 -16h4.6v3.6h-4.6zM-2.3 12.4h4.6v3.6h-4.6zM-16 -2.3h3.6v4.6h-3.6zM12.4 -2.3h3.6v4.6h-3.6z"/></g>
<g transform="translate(939.98 363.40)"><path fill="none" d="M-3.6 -10.8V10.8M3.6 -10.8V10.8M-10.8 -3.6H10.8M-10.8 3.6H10.8M-10.8 -10.8H10.8V10.8H-10.8Z" stroke="#828282" stroke-width="1.9"/><path fill="none" d="M-15.5 -15.5L-10.5 -10.5M15.5 15.5L10.5 10.5M-15.5 15.5L-10.5 10.5M15.5 -15.5L10.5 -10.5" stroke="#606060" stroke-width="2.6"/><path fill="#3c3c3c" d="M-9.4 -9.4h4.4v4.4h-4.4zM5 -9.4h4.4v4.4h-4.4zM-9.4 5h4.4v4.4h-4.4zM5 5h4.4v4.4h-4.4zM-2.2 -2.2h4.4v4.4h-4.4z"/><path fill="#6a6a6a" d="M-2.3 -16h4.6v3.6h-4.6zM-2.3 12.4h4.6v3.6h-4.6zM-16 -2.3h3.6v4.6h-3.6zM12.4 -2.3h3.6v4.6h-3.6z"/></g>
<g transform="translate(1167.64 360.00)"><path fill="none" d="M-3.6 -10.8V10.8M3.6 -10.8V10.8M-10.8 -3.6H10.8M-10.8 3.6H10.8M-10.8 -10.8H10.8V10.8H-10.8Z" stroke="#828282" stroke-width="1.9"/><path fill="none" d="M-15.5 -15.5L-10.5 -10.5M15.5 15.5L10.5 10.5M-15.5 15.5L-10.5 10.5M15.5 -15.5L10.5 -10.5" stroke="#606060" stroke-width="2.6"/><path fill="#3c3c3c" d="M-9.4 -9.4h4.4v4.4h-4.4zM5 -9.4h4.4v4.4h-4.4zM-9.4 5h4.4v4.4h-4.4zM5 5h4.4v4.4h-4.4zM-2.2 -2.2h4.4v4.4h-4.4z"/><path fill="#6a6a6a" d="M-2.3 -16h4.6v3.6h-4.6zM-2.3 12.4h4.6v3.6h-4.6zM-16 -2.3h3.6v4.6h-3.6zM12.4 -2.3h3.6v4.6h-3.6z"/></g>
<g transform="translate(1395.30 359.90)"><path fill="none" d="M-3.6 -10.8V10.8M3.6 -10.8V10.8M-10.8 -3.6H10.8M-10.8 3.6H10.8M-10.8 -10.8H10.8V10.8H-10.8Z" stroke="#828282" stroke-width="1.9"/><path fill="none" d="M-15.5 -15.5L-10.5 -10.5M15.5 15.5L10.5 10.5M-15.5 15.5L-10.5 10.5M15.5 -15.5L10.5 -10.5" stroke="#606060" stroke-width="2.6"/><path fill="#3c3c3c" d="M-9.4 -9.4h4.4v4.4h-4.4zM5 -9.4h4.4v4.4h-4.4zM-9.4 5h4.4v4.4h-4.4zM5 5h4.4v4.4h-4.4zM-2.2 -2.2h4.4v4.4h-4.4z"/><path fill="#6a6a6a" d="M-2.3 -16h4.6v3.6h-4.6zM-2.3 12.4h4.6v3.6h-4.6zM-16 -2.3h3.6v4.6h-3.6zM12.4 -2.3h3.6v4.6h-3.6z"/></g>
<g transform="translate(257.00 1011.30)"><path fill="none" d="M-3.6 -10.8V10.8M3.6 -10.8V10.8M-10.8 -3.6H10.8M-10.8 3.6H10.8M-10.8 -10.8H10.8V10.8H-10.8Z" stroke="#828282" stroke-width="1.9"/><path fill="none" d="M-15.5 -15.5L-10.5 -10.5M15.5 15.5L10.5 10.5M-15.5 15.5L-10.5 10.5M15.5 -15.5L10.5 -10.5" stroke="#606060" stroke-width="2.6"/><path fill="#3c3c3c" d="M-9.4 -9.4h4.4v4.4h-4.4zM5 -9.4h4.4v4.4h-4.4zM-9.4 5h4.4v4.4h-4.4zM5 5h4.4v4.4h-4.4zM-2.2 -2.2h4.4v4.4h-4.4z"/><path fill="#6a6a6a" d="M-2.3 -16h4.6v3.6h-4.6zM-2.3 12.4h4.6v3.6h-4.6zM-16 -2.3h3.6v4.6h-3.6zM12.4 -2.3h3.6v4.6h-3.6z"/></g>
<g transform="translate(484.66 927.30)"><path fill="none" d="M-3.6 -10.8V10.8M3.6 -10.8V10.8M-10.8 -3.6H10.8M-10.8 3.6H10.8M-10.8 -10.8H10.8V10.8H-10.8Z" stroke="#828282" stroke-width="1.9"/><path fill="none" d="M-15.5 -15.5L-10.5 -10.5M15.5 15.5L10.5 10.5M-15.5 15.5L-10.5 10.5M15.5 -15.5L10.5 -10.5" stroke="#606060" stroke-width="2.6"/><path fill="#3c3c3c" d="M-9.4 -9.4h4.4v4.4h-4.4zM5 -9.4h4.4v4.4h-4.4zM-9.4 5h4.4v4.4h-4.4zM5 5h4.4v4.4h-4.4zM-2.2 -2.2h4.4v4.4h-4.4z"/><path fill="#6a6a6a" d="M-2.3 -16h4.6v3.6h-4.6zM-2.3 12.4h4.6v3.6h-4.6zM-16 -2.3h3.6v4.6h-3.6zM12.4 -2.3h3.6v4.6h-3.6z"/></g>
<g transform="translate(712.32 780.00)"><path fill="none" d="M-3.6 -10.8V10.8M3.6 -10.8V10.8M-10.8 -3.6H10.8M-10.8 3.6H10.8M-10.8 -10.8H10.8V10.8H-10.8Z" stroke="#828282" stroke-width="1.9"/><path fill="none" d="M-15.5 -15.5L-10.5 -10.5M15.5 15.5L10.5 10.5M-15.5 15.5L-10.5 10.5M15.5 -15.5L10.5 -10.5" stroke="#606060" stroke-width="2.6"/><path fill="#3c3c3c" d="M-9.4 -9.4h4.4v4.4h-4.4zM5 -9.4h4.4v4.4h-4.4zM-9.4 5h4.4v4.4h-4.4zM5 5h4.4v4.4h-4.4zM-2.2 -2.2h4.4v4.4h-4.4z"/><path fill="#6a6a6a" d="M-2.3 -16h4.6v3.6h-4.6zM-2.3 12.4h4.6v3.6h-4.6zM-16 -2.3h3.6v4.6h-3.6zM12.4 -2.3h3.6v4.6h-3.6z"/></g>
<g transform="translate(939.98 753.60)"><path fill="none" d="M-3.6 -10.8V10.8M3.6 -10.8V10.8M-10.8 -3.6H10.8M-10.8 3.6H10.8M-10.8 -10.8H10.8V10.8H-10.8Z" stroke="#828282" stroke-width="1.9"/><path fill="none" d="M-15.5 -15.5L-10.5 -10.5M15.5 15.5L10.5 10.5M-15.5 15.5L-10.5 10.5M15.5 -15.5L10.5 -10.5" stroke="#606060" stroke-width="2.6"/><path fill="#3c3c3c" d="M-9.4 -9.4h4.4v4.4h-4.4zM5 -9.4h4.4v4.4h-4.4zM-9.4 5h4.4v4.4h-4.4zM5 5h4.4v4.4h-4.4zM-2.2 -2.2h4.4v4.4h-4.4z"/><path fill="#6a6a6a" d="M-2.3 -16h4.6v3.6h-4.6zM-2.3 12.4h4.6v3.6h-4.6zM-16 -2.3h3.6v4.6h-3.6zM12.4 -2.3h3.6v4.6h-3.6z"/></g>
<g transform="translate(1167.64 702.00)"><path fill="none" d="M-3.6 -10.8V10.8M3.6 -10.8V10.8M-10.8 -3.6H10.8M-10.8 3.6H10.8M-10.8 -10.8H10.8V10.8H-10.8Z" stroke="#828282" stroke-width="1.9"/><path fill="none" d="M-15.5 -15.5L-10.5 -10.5M15.5 15.5L10.5 10.5M-15.5 15.5L-10.5 10.5M15.5 -15.5L10.5 -10.5" stroke="#606060" stroke-width="2.6"/><path fill="#3c3c3c" d="M-9.4 -9.4h4.4v4.4h-4.4zM5 -9.4h4.4v4.4h-4.4zM-9.4 5h4.4v4.4h-4.4zM5 5h4.4v4.4h-4.4zM-2.2 -2.2h4.4v4.4h-4.4z"/><path fill="#6a6a6a" d="M-2.3 -16h4.6v3.6h-4.6zM-2.3 12.4h4.6v3.6h-4.6zM-16 -2.3h3.6v4.6h-3.6zM12.4 -2.3h3.6v4.6h-3.6z"/></g>
<g transform="translate(1395.30 684.30)"><path fill="none" d="M-3.6 -10.8V10.8M3.6 -10.8V10.8M-10.8 -3.6H10.8M-10.8 3.6H10.8M-10.8 -10.8H10.8V10.8H-10.8Z" stroke="#828282" stroke-width="1.9"/><path fill="none" d="M-15.5 -15.5L-10.5 -10.5M15.5 15.5L10.5 10.5M-15.5 15.5L-10.5 10.5M15.5 -15.5L10.5 -10.5" stroke="#606060" stroke-width="2.6"/><path fill="#3c3c3c" d="M-9.4 -9.4h4.4v4.4h-4.4zM5 -9.4h4.4v4.4h-4.4zM-9.4 5h4.4v4.4h-4.4zM5 5h4.4v4.4h-4.4zM-2.2 -2.2h4.4v4.4h-4.4z"/><path fill="#6a6a6a" d="M-2.3 -16h4.6v3.6h-4.6zM-2.3 12.4h4.6v3.6h-4.6zM-16 -2.3h3.6v4.6h-3.6zM12.4 -2.3h3.6v4.6h-3.6z"/></g>
<polygon points="257.00,328.40 262.45,339.89 274.62,341.74 265.81,350.68 267.89,363.31 257.00,357.35 246.11,363.31 248.19,350.68 239.38,341.74 251.55,339.89" fill="#0000f8"/>
<polygon points="484.66,305.00 490.11,316.49 502.28,318.34 493.47,327.28 495.55,339.91 484.66,333.95 473.77,339.91 475.85,327.28 467.04,318.34 479.21,316.49" fill="#0000f8"/>
<polygon points="712.32,292.20 717.77,303.69 729.94,305.54 721.13,314.48 723.21,327.11 712.32,321.15 701.43,327.11 703.51,314.48 694.70,305.54 706.87,303.69" fill="#0000f8"/>
<polygon points="939.98,265.70 945.43,277.19 957.60,279.04 948.79,287.98 950.87,300.61 939.98,294.65 929.09,300.61 931.17,287.98 922.36,279.04 934.53,277.19" fill="#0000f8"/>
<polygon points="1167.64,264.70 1173.09,276.19 1185.26,278.04 1176.45,286.98 1178.53,299.61 1167.64,293.65 1156.75,299.61 1158.83,286.98 1150.02,278.04 1162.19,276.19" fill="#0000f8"/>
<polygon points="1395.30,265.20 1400.75,276.69 1412.92,278.54 1404.11,287.48 1406.19,300.11 1395.30,294.15 1384.41,300.11 1386.49,287.48 1377.68,278.54 1389.85,276.69" fill="#0000f8"/>
<polygon points="257.00,907.70 262.45,919.19 274.62,921.04 265.81,929.98 267.89,942.61 257.00,936.65 246.11,942.61 248.19,929.98 239.38,921.04 251.55,919.19" fill="#0000f8"/>
<polygon points="484.66,685.70 490.11,697.19 502.28,699.04 493.47,707.98 495.55,720.61 484.66,714.65 473.77,720.61 475.85,707.98 467.04,699.04 479.21,697.19" fill="#0000f8"/>
<polygon points="712.32,534.90 717.77,546.39 729.94,548.24 721.13,557.18 723.21,569.81 712.32,563.85 701.43,569.81 703.51,557.18 694.70,548.24 706.87,546.39" fill="#0000f8"/>
<polygon points="939.98,514.90 945.43,526.39 957.60,528.24 948.79,537.18 950.87,549.81 939.98,543.85 929.09,549.81 931.17,537.18 922.36,528.24 934.53,526.39" fill="#0000f8"/>
<polygon points="1167.64,496.10 1173.09,507.59 1185.26,509.44 1176.45,518.38 1178.53,531.01 1167.64,525.05 1156.75,531.01 1158.83,518.38 1150.02,509.44 1162.19,507.59" fill="#0000f8"/>
<polygon points="1395.30,484.40 1400.75,495.89 1412.92,497.74 1404.11,506.68 1406.19,519.31 1395.30,513.35 1384.41,519.31 1386.49,506.68 1377.68,497.74 1389.85,495.89" fill="#0000f8"/>
<g stroke="#1a1a1a" stroke-width="3.5" fill="none">
<line x1="143.8" y1="34.5" x2="143.8" y2="1098.1"/>
<line x1="132.8" y1="1086.6" x2="1508.3" y2="1086.6"/>
<line x1="122.8" y1="36.00" x2="143.8" y2="36.00"/>
<line x1="122.8" y1="336.10" x2="143.8" y2="336.10"/>
<line x1="122.8" y1="636.20" x2="143.8" y2="636.20"/>
<line x1="122.8" y1="936.30" x2="143.8" y2="936.30"/>
<line x1="132.8" y1="186.05" x2="143.8" y2="186.05"/>
<line x1="132.8" y1="486.15" x2="143.8" y2="486.15"/>
<line x1="132.8" y1="786.25" x2="143.8" y2="786.25"/>
<line x1="132.8" y1="1086.35" x2="143.8" y2="1086.35"/>
<line x1="257.00" y1="1086.6" x2="257.00" y2="1108.1"/>
<line x1="484.66" y1="1086.6" x2="484.66" y2="1108.1"/>
<line x1="712.32" y1="1086.6" x2="712.32" y2="1108.1"/>
<line x1="939.98" y1="1086.6" x2="939.98" y2="1108.1"/>
<line x1="1167.64" y1="1086.6" x2="1167.64" y2="1108.1"/>
<line x1="1395.30" y1="1086.6" x2="1395.30" y2="1108.1"/>
<line x1="143.17" y1="1086.6" x2="143.17" y2="1098.1"/>
<line x1="370.83" y1="1086.6" x2="370.83" y2="1098.1"/>
<line x1="598.49" y1="1086.6" x2="598.49" y2="1098.1"/>
<line x1="826.15" y1="1086.6" x2="826.15" y2="1098.1"/>
<line x1="1053.81" y1="1086.6" x2="1053.81" y2="1098.1"/>
<line x1="1281.47" y1="1086.6" x2="1281.47" y2="1098.1"/>
<line x1="1509.13" y1="1086.6" x2="1509.13" y2="1098.1"/>
</g>
<g stroke="#2626f2" stroke-width="3.5" fill="none">
<line x1="1508.3" y1="34.5" x2="1508.3" y2="1088.1"/>
<line x1="1487.3" y1="36.00" x2="1508.3" y2="36.00"/>
<line x1="1487.3" y1="186.05" x2="1508.3" y2="186.05"/>
<line x1="1487.3" y1="336.10" x2="1508.3" y2="336.10"/>
<line x1="1487.3" y1="486.15" x2="1508.3" y2="486.15"/>
<line x1="1487.3" y1="636.20" x2="1508.3" y2="636.20"/>
<line x1="1487.3" y1="786.25" x2="1508.3" y2="786.25"/>
<line x1="1487.3" y1="936.30" x2="1508.3" y2="936.30"/>
<line x1="1487.3" y1="1086.35" x2="1508.3" y2="1086.35"/>
<line x1="1497.3" y1="111.03" x2="1508.3" y2="111.03"/>
<line x1="1497.3" y1="261.08" x2="1508.3" y2="261.08"/>
<line x1="1497.3" y1="411.12" x2="1508.3" y2="411.12"/>
<line x1="1497.3" y1="561.18" x2="1508.3" y2="561.18"/>
<line x1="1497.3" y1="711.23" x2="1508.3" y2="711.23"/>
<line x1="1497.3" y1="861.28" x2="1508.3" y2="861.28"/>
<line x1="1497.3" y1="1011.33" x2="1508.3" y2="1011.33"/>
</g>
<g transform="translate(111.50 50.30) scale(0.920 1)"><text text-anchor="end" fill="#1a1a1a" font-size="52" font-family="Liberation Sans, Arial, sans-serif">8</text></g>
<g transform="translate(111.50 350.40) scale(0.920 1)"><text text-anchor="end" fill="#1a1a1a" font-size="52" font-family="Liberation Sans, Arial, sans-serif">7</text></g>
<g transform="translate(111.50 650.50) scale(0.920 1)"><text text-anchor="end" fill="#1a1a1a" font-size="52" font-family="Liberation Sans, Arial, sans-serif">6</text></g>
<g transform="translate(111.50 950.60) scale(0.920 1)"><text text-anchor="end" fill="#1a1a1a" font-size="52" font-family="Liberation Sans, Arial, sans-serif">5</text></g>
<g transform="translate(1531.00 50.30) scale(0.920 1)"><text text-anchor="start" fill="#3030ee" font-size="52" font-family="Liberation Sans, Arial, sans-serif">100</text><rect x="2.60" y="-4.78" width="10.30" height="5.72" fill="#fff"/><rect x="17.78" y="-4.78" width="9.88" height="5.72" fill="#fff"/></g>
<g transform="translate(1531.00 200.35) scale(0.920 1)"><text text-anchor="start" fill="#3030ee" font-size="52" font-family="Liberation Sans, Arial, sans-serif">95</text></g>
<g transform="translate(1531.00 350.40) scale(0.920 1)"><text text-anchor="start" fill="#3030ee" font-size="52" font-family="Liberation Sans, Arial, sans-serif">90</text></g>
<g transform="translate(1531.00 500.45) scale(0.920 1)"><text text-anchor="start" fill="#3030ee" font-size="52" font-family="Liberation Sans, Arial, sans-serif">85</text></g>
<g transform="translate(1531.00 650.50) scale(0.920 1)"><text text-anchor="start" fill="#3030ee" font-size="52" font-family="Liberation Sans, Arial, sans-serif">80</text></g>
<g transform="translate(1531.00 800.55) scale(0.920 1)"><text text-anchor="start" fill="#3030ee" font-size="52" font-family="Liberation Sans, Arial, sans-serif">75</text></g>
<g transform="translate(1531.00 950.60) scale(0.920 1)"><text text-anchor="start" fill="#3030ee" font-size="52" font-family="Liberation Sans, Arial, sans-serif">70</text></g>
<g transform="translate(1531.00 1100.65) scale(0.920 1)"><text text-anchor="start" fill="#3030ee" font-size="52" font-family="Liberation Sans, Arial, sans-serif">65</text></g>
<g transform="translate(257.00 1160.50) scale(0.920 1)"><text text-anchor="middle" fill="#1a1a1a" font-size="52" font-family="Liberation Sans, Arial, sans-serif">0.6</text></g>
<g transform="translate(484.66 1160.50) scale(0.920 1)"><text text-anchor="middle" fill="#1a1a1a" font-size="52" font-family="Liberation Sans, Arial, sans-serif">0.8</text></g>
<g transform="translate(712.32 1160.50) scale(0.920 1)"><text text-anchor="middle" fill="#1a1a1a" font-size="52" font-family="Liberation Sans, Arial, sans-serif">1.0</text><rect x="-33.54" y="-4.78" width="10.30" height="5.72" fill="#fff"/><rect x="-18.36" y="-4.78" width="9.88" height="5.72" fill="#fff"/></g>
<g transform="translate(939.98 1160.50) scale(0.920 1)"><text text-anchor="middle" fill="#1a1a1a" font-size="52" font-family="Liberation Sans, Arial, sans-serif">1.2</text><rect x="-33.54" y="-4.78" width="10.30" height="5.72" fill="#fff"/><rect x="-18.36" y="-4.78" width="9.88" height="5.72" fill="#fff"/></g>
<g transform="translate(1167.64 1160.50) scale(0.920 1)"><text text-anchor="middle" fill="#1a1a1a" font-size="52" font-family="Liberation Sans, Arial, sans-serif">1.4</text><rect x="-33.54" y="-4.78" width="10.30" height="5.72" fill="#fff"/><rect x="-18.36" y="-4.78" width="9.88" height="5.72" fill="#fff"/></g>
<g transform="translate(1395.30 1160.50) scale(0.920 1)"><text text-anchor="middle" fill="#1a1a1a" font-size="52" font-family="Liberation Sans, Arial, sans-serif">1.6</text><rect x="-33.54" y="-4.78" width="10.30" height="5.72" fill="#fff"/><rect x="-18.36" y="-4.78" width="9.88" height="5.72" fill="#fff"/></g>
<g transform="translate(826.70 1234.80) scale(0.930 1)"><text text-anchor="middle" fill="#1a1a1a" font-size="52" font-family="Liberation Sans, Arial, sans-serif">Pressure (MPa)</text></g>
<g transform="translate(447 164.5) scale(0.920 1)"><text fill="#1a1a1a" font-size="52" font-family="Liberation Sans, Arial, sans-serif">15%(2Cu-Ni)-2%K<tspan font-size="37" dy="20">2</tspan><tspan dy="-20">O/diatomite</tspan></text><rect x="2.60" y="-4.78" width="10.30" height="5.72" fill="#fff"/><rect x="17.78" y="-4.78" width="9.88" height="5.72" fill="#fff"/></g>
<text transform="translate(55.5 528.8) rotate(-90)" text-anchor="middle" fill="#1a1a1a" font-size="50.1" font-family="Liberation Sans, Arial, sans-serif">Methanol conversion (%)</text>
<text transform="translate(1649 511.2) rotate(-90)" text-anchor="middle" fill="#3030ee" font-size="50.4" font-family="Liberation Sans, Arial, sans-serif">DMC selectivity (%)</text>
<rect x="837.3" y="854.3" width="550.5" height="120.4" rx="2" fill="#fff" stroke="#9c9c9c" stroke-width="3.2"/>
<line x1="844.4" y1="885.3" x2="955.3" y2="885.3" stroke="#1a1a1a" stroke-width="3.8"/>
<g transform="translate(900.00 885.30)"><path fill="none" d="M-3.6 -10.8V10.8M3.6 -10.8V10.8M-10.8 -3.6H10.8M-10.8 3.6H10.8M-10.8 -10.8H10.8V10.8H-10.8Z" stroke="#828282" stroke-width="1.9"/><path fill="none" d="M-15.5 -15.5L-10.5 -10.5M15.5 15.5L10.5 10.5M-15.5 15.5L-10.5 10.5M15.5 -15.5L10.5 -10.5" stroke="#606060" stroke-width="2.6"/><path fill="#3c3c3c" d="M-9.4 -9.4h4.4v4.4h-4.4zM5 -9.4h4.4v4.4h-4.4zM-9.4 5h4.4v4.4h-4.4zM5 5h4.4v4.4h-4.4zM-2.2 -2.2h4.4v4.4h-4.4z"/><path fill="#6a6a6a" d="M-2.3 -16h4.6v3.6h-4.6zM-2.3 12.4h4.6v3.6h-4.6zM-16 -2.3h3.6v4.6h-3.6zM12.4 -2.3h3.6v4.6h-3.6z"/></g>
<line x1="844.4" y1="946.7" x2="955.3" y2="946.7" stroke="#2626f2" stroke-width="3.8"/>
<polygon points="900.00,927.70 905.45,939.19 917.62,941.04 908.81,949.98 910.89,962.61 900.00,956.65 889.11,962.61 891.19,949.98 882.38,941.04 894.55,939.19" fill="#0000f8"/>
<g transform="translate(967.20 902.60) scale(0.972 1)"><text text-anchor="start" fill="#1a1a1a" font-size="49.4" font-family="Liberation Sans, Arial, sans-serif">without dehydration</text></g>
<g transform="translate(967.20 963.20) scale(0.972 1)"><text text-anchor="start" fill="#1a1a1a" font-size="49.4" font-family="Liberation Sans, Arial, sans-serif">with dehydration</text></g>
</svg></body></html>
